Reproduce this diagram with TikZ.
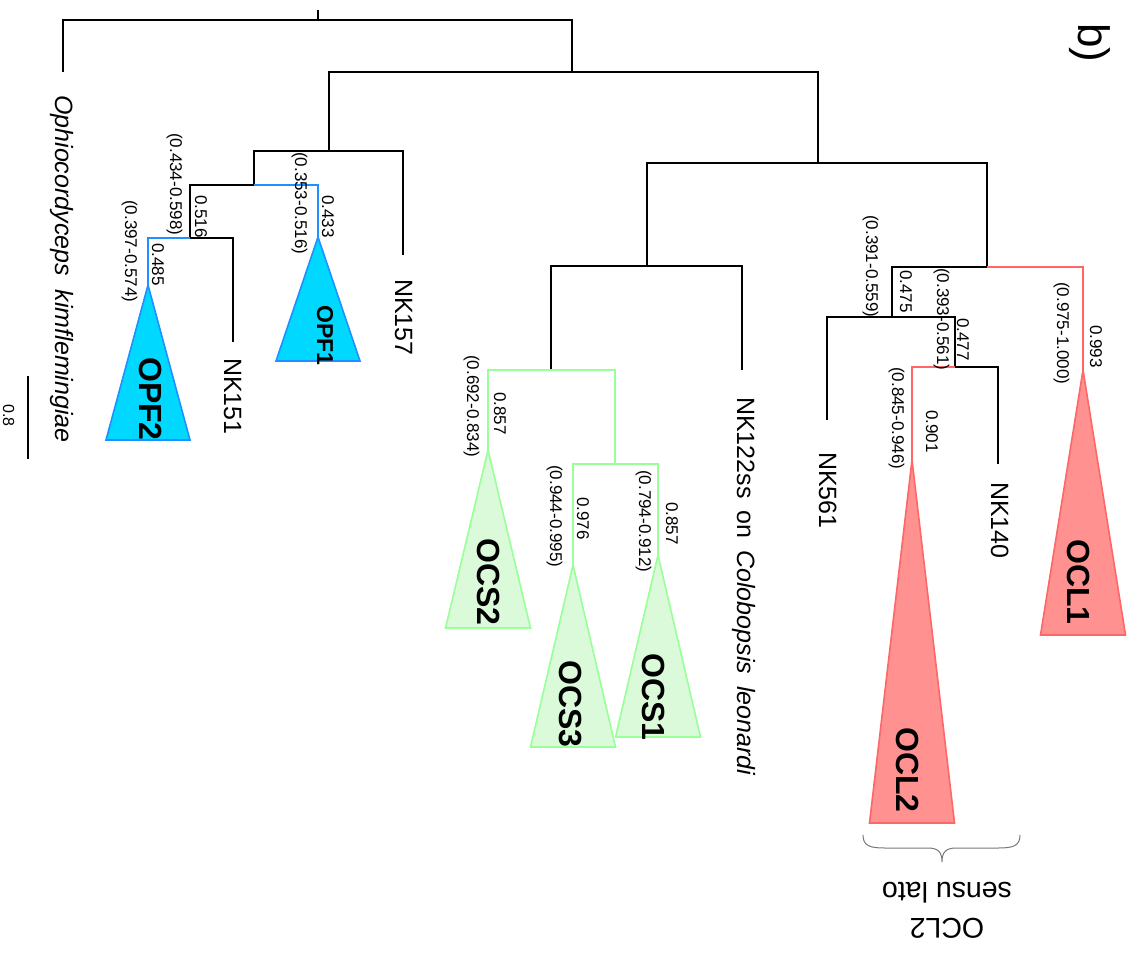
\documentclass[tikz,border=0pt]{standalone}
\usepackage{fontspec}
\setmainfont{Liberation Sans}
\definecolor{blueline}{RGB}{30,144,255}
\definecolor{bluefill}{RGB}{0,216,255}
\definecolor{greenline}{RGB}{153,255,153}
\definecolor{greenfill}{RGB}{218,250,218}
\definecolor{redline}{RGB}{255,102,102}
\definecolor{redfill}{RGB}{255,145,145}
\definecolor{bracegrey}{RGB}{120,120,120}
\begin{document}
\begin{tikzpicture}[x=1pt,y=-1pt,
  br/.style={draw=black,line width=1.8pt},
  bl/.style={draw=blueline,line width=1.6pt},
  gr/.style={draw=greenline,line width=1.6pt},
  rd/.style={draw=redline,line width=1.6pt},
  bltri/.style={draw=blueline,fill=bluefill,line width=1.6pt,line join=miter},
  grtri/.style={draw=greenline,fill=greenfill,line width=1.6pt},
  rdtri/.style={draw=redline,fill=redfill,line width=1.6pt},
  taxon/.style={rotate=-90,anchor=base west,inner sep=0pt,font=\fontsize{25}{30}\selectfont},
  support/.style={rotate=-90,anchor=base west,inner sep=0pt,font=\fontsize{17}{20}\selectfont},
  clade/.style={rotate=-90,anchor=base west,inner sep=0pt,font=\bfseries\fontsize{32}{36}\selectfont}]
\useasboundingbox (0,0) rectangle (1131,964);

% internal nodes and tip ends
\coordinate (rt)  at (318,10);
\coordinate (r0)  at (318,20);
\coordinate (oph) at (63,72);
\coordinate (n1)  at (572,72);
\coordinate (n2)  at (329,151);
\coordinate (nk157) at (403,255);
\coordinate (n4)  at (254,185);
\coordinate (opf1) at (318,237);
\coordinate (n5)  at (190,238);
\coordinate (opf2) at (148,285);
\coordinate (nk151) at (233,342);
\coordinate (n3)  at (818,163);
\coordinate (n6)  at (647,266);
\coordinate (nk122) at (742,370);
\coordinate (n8)  at (551,370);
\coordinate (ocs2) at (488,450);
\coordinate (n9)  at (615,464);
\coordinate (ocs3) at (573,565);
\coordinate (ocs1) at (658,555);
\coordinate (n7)  at (987,267);
\coordinate (ocl1) at (1083,370);
\coordinate (n10) at (892,317);
\coordinate (nk561) at (827,420);
\coordinate (n11) at (955,367);
\coordinate (ocl2) at (912,460);
\coordinate (nk140) at (998,464);

% black branches
\draw[br] (rt) -- (r0);
\draw[br] (r0) -| (oph);
\draw[br] (r0) -| (n1);
\draw[br] (n1) -| (n2);
\draw[br] (n1) -| (n3);
\draw[br] (n2) -| (nk157);
\draw[br] (n2) -| (n4);
\draw[br] (n4) -| (n5);
\draw[br] (n5) -| (nk151);
\draw[br] (n3) -| (n6);
\draw[br] (n3) -| (n7);
\draw[br] (n6) -| (nk122);
\draw[br] (n6) -| (n8);
\draw[br] (n7) -| (n10);
\draw[br] (n10) -| (nk561);
\draw[br] (n10) -| (n11);
\draw[br] (n11) -| (nk140);

% coloured branches
\draw[bl] (n4) -| (opf1);
\draw[bl] (n5) -| (opf2);
\draw[gr] (n8) -| (ocs2);
\draw[gr] (n8) -| (n9);
\draw[gr] (n9) -| (ocs3);
\draw[gr] (n9) -| (ocs1);
\draw[rd] (n7) -| (ocl1);
\draw[rd] (n11) -| (ocl2);

% collapsed clades
\draw[bltri] (opf1) -- ++(-42,124) -- ++(84,0) -- cycle;
\draw[bltri] (opf2) -- ++(-42,155) -- ++(84,0) -- cycle;
\draw[grtri] (ocs2) -- ++(-42.5,178) -- ++(85,0) -- cycle;
\draw[grtri] (ocs3) -- ++(-42.5,182) -- ++(85,0) -- cycle;
\draw[grtri] (ocs1) -- ++(-42.5,182) -- ++(85,0) -- cycle;
\draw[rdtri] (ocl1) -- ++(-42.5,265) -- ++(85,0) -- cycle;
\draw[rdtri] (ocl2) -- ++(-42.5,363) -- ++(85,0) -- cycle;

% clade names
\node[clade,font=\bfseries\fontsize{23}{26}\selectfont] (topf1) at (317,305) {OPF1};
\node[clade] (topf2) at (139,357) {OPF2};
\node[clade] (tocs2) at (477,538) {OCS2};
\node[clade] (tocs3) at (559,660) {OCS3};
\node[clade] (tocs1) at (642,653) {OCS1};
\node[clade] (tocl1) at (1067,539) {OCL1};
\node[clade] (tocl2) at (896,727) {OCL2};

% taxon names
\node[taxon] (toph) at (55,95) {\itshape Ophiocordyceps\hspace{14pt}kimflemingiae};
\node[taxon] (tnk157) at (395,279) {NK157};
\node[taxon] (tnk151) at (224,358) {NK151};
\node[taxon] (tnk122) at (737,397) {NK122ss\hspace{12pt}on\hspace{12pt}\itshape Colobopsis\hspace{12pt}leonardi};
\node[taxon] (tnk561) at (819,452) {NK561};
\node[taxon] (tnk140) at (991,482) {NK140};

% posterior support values and intervals
\node[support] (s1a) at (322,195) {0.433};
\node[support] (s1b) at (295,152) {(0.353-0.516)};
\node[support] (s2a) at (195,195) {0.516};
\node[support] (s2b) at (170,133) {(0.434-0.598)};
\node[support] (s3a) at (152,243) {0.485};
\node[support] (s3b) at (125,200) {(0.397-0.574)};
\node[support] (s4a) at (494,392) {0.857};
\node[support] (s4b) at (467,355) {(0.692-0.834)};
\node[support] (s5a) at (577,497) {0.976};
\node[support] (s5b) at (550,465) {(0.944-0.995)};
\node[support] (s6a) at (666,502) {0.857};
\node[support] (s6b) at (639,470) {(0.794-0.912)};
\node[support] (s7a) at (900,270) {0.475};
\node[support] (s7b) at (866,215) {(0.391-0.559)};
\node[support] (s8a) at (957,318) {0.477};
\node[support] (s8b) at (937,268) {(0.393-0.561)};
\node[support] (s9a) at (926,410) {0.901};
\node[support] (s9b) at (892,367) {(0.845-0.946)};
\node[support] (s10a) at (1090,325) {0.993};
\node[support] (s10b) at (1057,282) {(0.975-1.000)};

% scale bar
\coordinate (sb1) at (28,376);
\coordinate (sb2) at (28,459);
\draw[br] (sb1) -- (sb2);
\node[support,font=\fontsize{16}{18}\selectfont] (sbl) at (3,404) {0.8};

% panel letter
\node[rotate=-90,anchor=base west,inner sep=0pt,font=\fontsize{44}{50}\selectfont] (panel) at (1078,23) {b)};

% brace and group name
\coordinate (bl0) at (863,835);
\coordinate (btip) at (942,862);
\coordinate (br0) at (1020,835);
\draw[bracegrey,line width=1pt] (bl0) .. controls (863,846) and (870,848) .. (885,848)
  -- (928,848) .. controls (938,848) and (942,852) .. (btip)
  .. controls (942,852) and (946,848) .. (956,848)
  -- (998,848) .. controls (1013,848) and (1020,846) .. (br0);
\node[rotate=180,align=center,inner sep=0pt,font=\fontsize{28.5}{36}\selectfont] (grp) at (947,910) {OCL2\\sensu lato};
\end{tikzpicture}
\end{document}
